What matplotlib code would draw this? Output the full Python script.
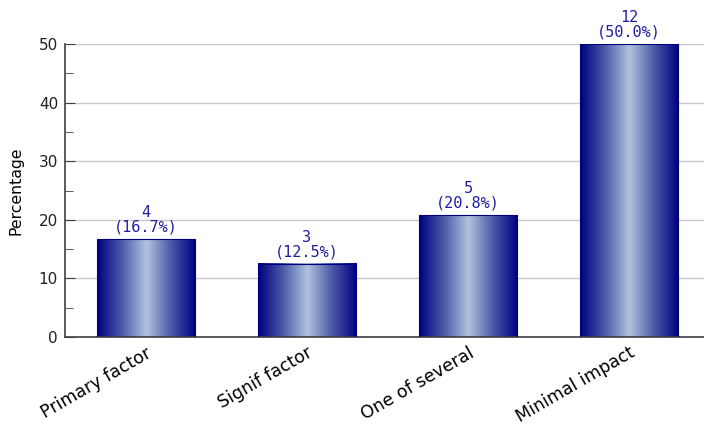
import numpy as np
import matplotlib
matplotlib.use("Agg")
import matplotlib.pyplot as plt
from matplotlib.colors import LinearSegmentedColormap
from matplotlib.ticker import MultipleLocator

categories = ["Primary factor", "Signif factor", "One of several", "Minimal impact"]
counts = [4, 3, 5, 12]
percents = [16.7, 12.5, 20.8, 50.0]

W, H = 704, 426
fig = plt.figure(figsize=(W / 100, H / 100), dpi=100)
ax = fig.add_axes([65 / W, (H - 337) / H, (W - 65) / W, 293 / H])

x = np.arange(len(categories))
bar_w = 0.608
cmap = LinearSegmentedColormap.from_list(
    "barshade", ["#000080", "#4a5aa8", "#b0c4de", "#4a5aa8", "#000080"])
grad = np.linspace(0, 1, 256).reshape(1, -1)

bars = ax.bar(x, percents, width=bar_w, color="none", edgecolor="#000080",
              linewidth=0.8, zorder=3)
for b, cnt, pct in zip(bars, counts, percents):
    x0 = b.get_x()
    ax.imshow(grad, cmap=cmap, aspect="auto", zorder=2,
              extent=(x0, x0 + b.get_width(), 0, b.get_height()))
    ax.annotate(f"{cnt}\n({pct:.1f}%)", (b.get_x() + b.get_width() / 2, pct),
                xytext=(0, 3), textcoords="offset points",
                ha="center", va="bottom", fontsize=11, color="#2020a0",
                family="DejaVu Sans Mono", linespacing=1.0)

ax.set_xlim(-0.5, 3.464)
ax.set_ylim(0, 50)
ax.yaxis.set_major_locator(MultipleLocator(10))
ax.yaxis.set_minor_locator(MultipleLocator(5))
ax.grid(axis="y", color="#c8c8c8", linewidth=1, zorder=0)
ax.set_axisbelow(True)

for s in ["top", "right"]:
    ax.spines[s].set_visible(False)
for s in ["left", "bottom"]:
    ax.spines[s].set_color("#404040")
    ax.spines[s].set_linewidth(1.2)

ax.tick_params(axis="y", which="major", direction="in", length=7,
               color="#404040", labelsize=11, labelcolor="#202020", pad=5)
ax.tick_params(axis="y", which="minor", direction="in", length=6,
               color="#404040")
ax.tick_params(axis="x", length=0, labelsize=12.5, pad=5)
ax.set_xticks(x)
ax.set_xticklabels(categories, rotation=30, ha="right", rotation_mode="anchor")
ax.set_ylabel("Percentage", fontsize=11.3, labelpad=11)

fig.savefig("out.png", dpi=100)
